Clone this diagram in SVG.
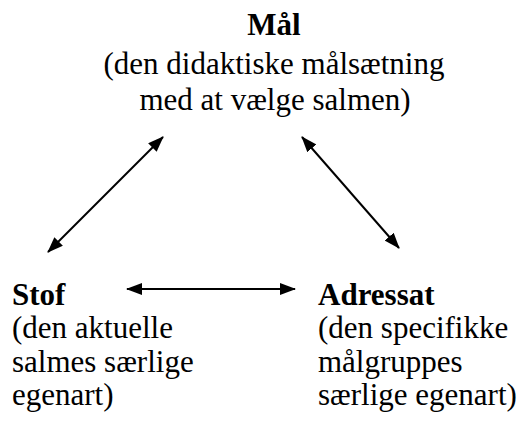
<svg xmlns="http://www.w3.org/2000/svg" width="527" height="428" viewBox="0 0 527 428">
<style>
.t{font-size:31px;fill:#000}
.b{font-weight:bold}
.c{stroke:#000;stroke-width:2;fill:none}
</style>
<defs>
<marker id="ah" viewBox="0 0 16 12" refX="15" refY="6" markerWidth="16" markerHeight="12" orient="auto-start-reverse" markerUnits="userSpaceOnUse">
<path d="M0,0 L16,6 L0,12 z" fill="#000"/>
</marker>
</defs>
<rect width="527" height="428" fill="#fff"/>
<g id="maal">
<text class="t b" x="274" y="35" text-anchor="middle" font-family="serif">Mål</text>
<text class="t" x="274" y="74" text-anchor="middle" font-family="serif">(den didaktiske målsætning</text>
<text class="t" x="275" y="110" text-anchor="middle" font-family="serif">med at vælge salmen)</text>
</g>
<g id="stof">
<text class="t b" x="12" y="305" font-family="serif">Stof</text>
<text class="t" x="12" y="338" font-family="serif">(den aktuelle</text>
<text class="t" x="12" y="372" font-family="serif">salmes særlige</text>
<text class="t" x="12" y="405" font-family="serif">egenart)</text>
</g>
<g id="adressat">
<text class="t b" x="318" y="305" font-family="serif">Adressat</text>
<text class="t" x="318" y="338" font-family="serif">(den specifikke</text>
<text class="t" x="318" y="372" font-family="serif">målgruppes</text>
<text class="t" x="318" y="405" font-family="serif">særlige egenart)</text>
</g>
<g id="connectors">
<line class="c" x1="48" y1="252" x2="163" y2="137" marker-start="url(#ah)" marker-end="url(#ah)"/>
<line class="c" x1="302" y1="137" x2="399" y2="248" marker-start="url(#ah)" marker-end="url(#ah)"/>
<line class="c" x1="127" y1="289" x2="295" y2="289" marker-start="url(#ah)" marker-end="url(#ah)"/>
</g>
</svg>
